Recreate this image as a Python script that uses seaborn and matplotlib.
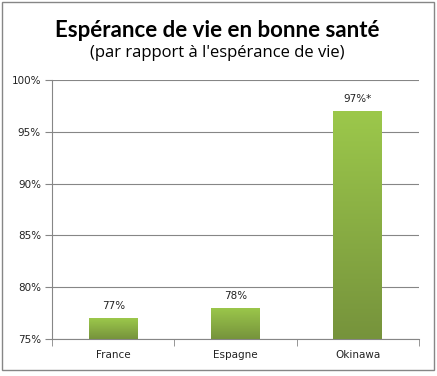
import numpy as np
import pandas as pd
import matplotlib
matplotlib.use("Agg")
import matplotlib.pyplot as plt
import seaborn as sns
from matplotlib.patches import Rectangle

# data
pays = ["France", "Espagne", "Okinawa"]
valeurs = [77, 78, 97]
etiquettes = ["77%", "78%", "97%*"]
yticks = [75, 80, 85, 90, 95, 100]

df = pd.DataFrame({"pays": pays, "val": valeurs})

sns.set_style("white")
plt.rcParams['font.family'] = ['DejaVu Sans']

fig = plt.figure(figsize=(4.37, 3.76), dpi=100)
ax = fig.add_axes([0.119, 0.0984, 0.84, 0.689])

sns.barplot(data=df, x="pays", y="val", color="#8db341", width=0.4, ax=ax)

# degrade vert sur les barres
grad = np.linspace(0, 1, 256).reshape(-1, 1)
cmap = matplotlib.colors.LinearSegmentedColormap.from_list("g", ["#76933c", "#9cc84b"])
for p in ax.patches:
    x0, y0 = p.get_x(), p.get_y()
    w, h = p.get_width(), p.get_height()
    im = ax.imshow(grad, cmap=cmap, aspect="auto", origin="lower",
                   extent=[x0, x0 + w, 75, y0 + h], zorder=3)
    im.set_clip_path(p)
    p.set_edgecolor("none")
ax.set_xlim(-0.5, 2.5)
ax.set_ylim(75, 100)

for i, (v, t) in enumerate(zip(valeurs, etiquettes)):
    ax.text(i, v + 0.7, t, ha="center", va="bottom", fontsize=7.5, color="#222222")

ax.set_yticks(yticks)
ax.set_yticklabels([f"{t}%" for t in yticks], fontsize=7.5, color="#222222")
ax.yaxis.grid(True, color="#868686", linewidth=0.8)
ax.set_axisbelow(True)
ax.tick_params(axis="y", length=5, color="#868686", left=True, pad=3)
ax.set_xticks([0, 1, 2])
ax.set_xticklabels(pays, fontsize=7.5, color="#222222")
ax.set_xticks([-0.5, 0.5, 1.5, 2.5], minor=True)
ax.tick_params(axis="x", which="major", length=0, pad=8)
ax.tick_params(axis="x", which="minor", length=5, color="#868686", bottom=True)
ax.set_xlabel("")
ax.set_ylabel("")
for s in ["top", "right"]:
    ax.spines[s].set_visible(False)
for s in ["left", "bottom"]:
    ax.spines[s].set_color("#868686")
    ax.spines[s].set_linewidth(0.8)

fig.text(0.496, 0.918, "Espérance de vie en bonne santé", ha="center", va="center",
         fontsize=16, fontfamily="Lato", fontweight="bold", color="black")
fig.text(0.496, 0.86, "(par rapport à l'espérance de vie)", ha="center", va="center",
         fontsize=12, fontfamily="Open Sans", color="black")

fig.patches.append(Rectangle((0.004, 0.016), 0.988, 0.978, transform=fig.transFigure,
                             fill=False, edgecolor="#868686", linewidth=1))

fig.savefig("out.png", dpi=100)
